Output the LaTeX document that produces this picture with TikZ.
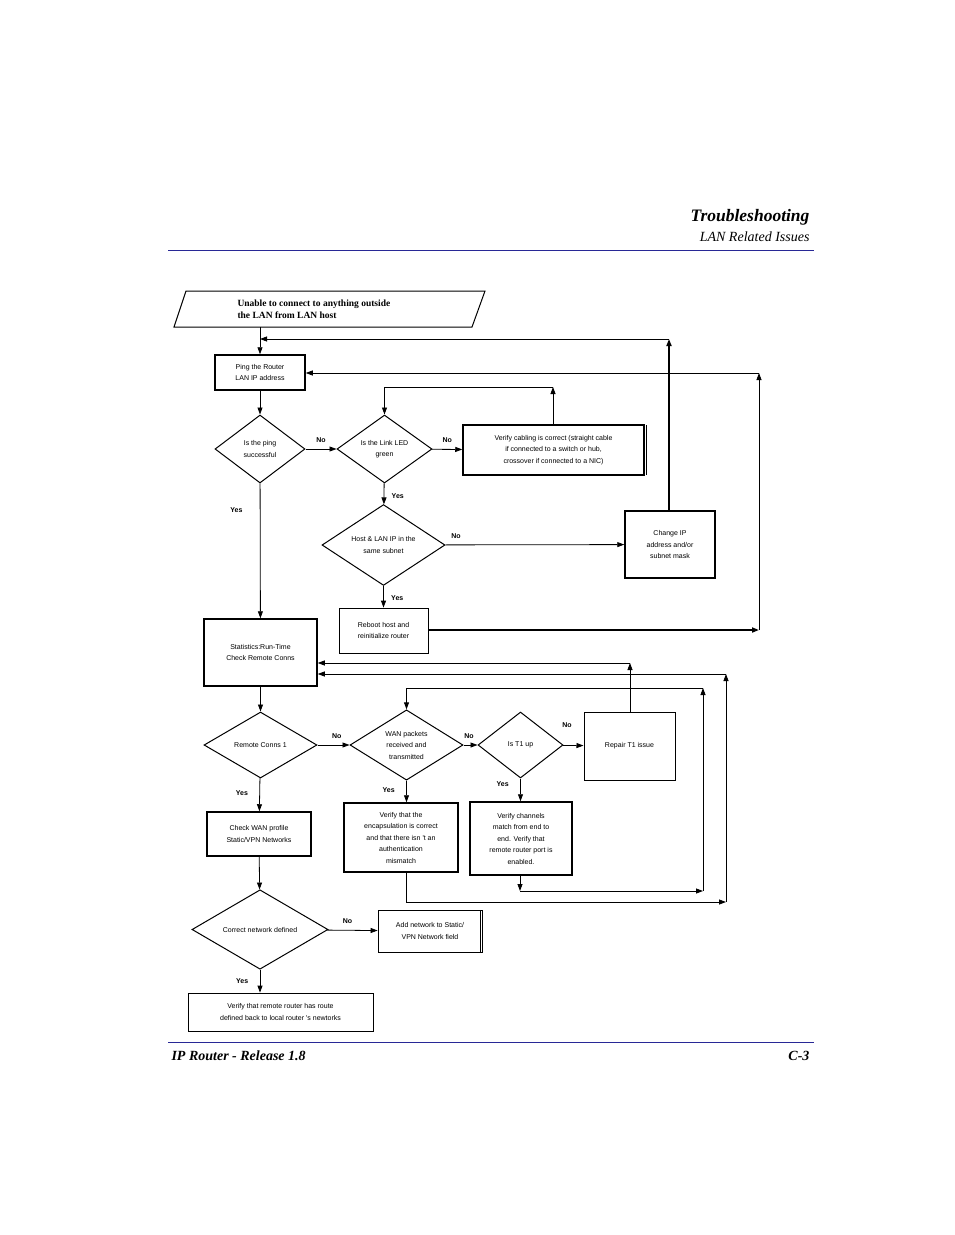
\documentclass[tikz,border=0pt]{standalone}
\usepackage{fontspec}
\setmainfont{Liberation Serif}
\newfontfamily\sansf{Liberation Sans}
\usetikzlibrary{shapes.geometric,arrows.meta}
\definecolor{rulec}{RGB}{40,40,150}
\begin{document}
\begin{tikzpicture}[x=1pt,y=-1pt,
  txt/.style={font=\sansf\fontsize{7}{11.5}\selectfont,align=center},
  box/.style={draw,line width=1.5pt,inner sep=0,txt},
  dia/.style={draw,diamond,line width=1pt,inner sep=0,txt},
  lab/.style={font=\sansf\bfseries\fontsize{7}{8}\selectfont},
  ar/.style={line width=0.8pt,-{Triangle[length=7pt,width=5pt]}},
  ln/.style={line width=0.8pt},
  thk/.style={line width=1.6pt}]
\useasboundingbox (0,0) rectangle (954,1235);
% header
\node[anchor=base east,font=\bfseries\itshape\fontsize{17.5}{20}\selectfont] (h1) at (813,221) {Troubleshooting};
\node[anchor=base east,font=\itshape\fontsize{14}{16}\selectfont] (h2) at (813,241) {LAN Related Issues};
\draw[rulec,line width=0.8pt] (168,250) -- (814,250);
\draw[rulec,line width=0.8pt] (168,1042) -- (814,1042);
\node[anchor=base west,font=\bfseries\itshape\fontsize{14}{16}\selectfont] (f1) at (168,1060) {IP Router - Release 1.8};
\node[anchor=base east,font=\bfseries\itshape\fontsize{14}{16}\selectfont] (f2) at (813,1060) {C-3};
% start
\draw[line width=1pt] (186,291) -- (485,291) -- (472,327) -- (174,327) -- cycle;
\node[anchor=north west,align=left,font=\bfseries\fontsize{9.5}{12}\selectfont] (start) at (234,296) {Unable to connect to anything outside\\the LAN from LAN host};
\coordinate (s) at (260,327);
% nodes
\node[box,minimum width=90pt,minimum height=35pt] (ping) at (260,372.5) {Ping the Router\\LAN IP address};
\node[dia,minimum width=90pt,minimum height=68pt] (d1) at (260,449) {Is the ping\\successful};
\node[dia,minimum width=95pt,minimum height=68pt] (d2) at (384.5,449) {Is the Link LED\\green};
\node[box,minimum width=181pt,minimum height=50pt] (cab) at (553.5,450) {Verify cabling is correct (straight cable\\if connected to a switch or hub,\\crossover if connected to a NIC)};
\draw[line width=0.6pt] (646,425) -- (646,475);
\node[dia,minimum width=123pt,minimum height=77pt] (d3) at (383.5,545) {Host \&  LAN IP in the\\same subnet};
\node[box,minimum width=90pt,minimum height=67pt] (chg) at (670,544.5) {Change IP\\address and/or\\subnet mask};
\node[box,line width=0.8pt,minimum width=89pt,minimum height=45pt] (reb) at (383.5,630.5) {Reboot host and\\reinitialize router};
\node[box,minimum width=113pt,minimum height=67pt] (stat) at (260.5,652.5) {Statistics:Run-Time\\Check  Remote Conns};
\node[dia,minimum width=113pt,minimum height=66pt] (d4) at (260.5,745) {Remote Conns 1};
\node[dia,minimum width=113pt,minimum height=66pt] (d5) at (406.5,745) {WAN packets\\received and\\transmitted};
\node[dia,minimum width=85pt,minimum height=66pt] (d6) at (520.5,745) {Is T1 up};
\node[box,line width=1pt,minimum width=91pt,minimum height=68pt] (rep) at (629.5,746) {Repair T1 issue};
\node[box,minimum width=114pt,minimum height=69pt] (enc) at (401,837.5) {Verify that the\\encapsulation is correct\\and that there isn 't an\\authentication\\mismatch};
\node[box,minimum width=102pt,minimum height=73pt] (chn) at (521,838.5) {Verify channels\\match from end to\\end. Verify that\\remote router port is\\enabled.};
\node[box,minimum width=104pt,minimum height=44pt] (wan) at (259,834) {Check WAN profile\\Static/VPN Networks};
\node[dia,minimum width=136pt,minimum height=69pt] (d7) at (260,929.5) {Correct network defined};
\node[box,line width=0.8pt,minimum width=104pt,minimum height=42pt] (add) at (430,931) {Add network to Static/\\VPN Network field};
\draw[line width=0.6pt] (480,910) -- (480,952);
\node[box,line width=0.8pt,minimum width=185pt,minimum height=38pt] (fin) at (280.5,1012) {Verify that remote router has route\\defined back to local router  's newtorks};
% connectors
\draw[ar] (s) -- (ping.north);
\draw[ar] (ping) -- (d1);
\draw[ar] (d1) -- (d2) node[lab,pos=0.5,above=3pt] {No};
\draw[ar] (d2) -- (cab) node[lab,pos=0.5,above=3pt] {No};
\coordinate (c1) at (553,387);
\draw[ar] (cab.north -| c1) -- (c1);
\draw[ar] (c1) -| (d2.north);
\draw[ar] (d2) -- (d3) node[lab,pos=0.6,right=4pt] {Yes};
\draw[ar] (d3) -- (chg) node[lab,pos=0.06,above=3pt] {No};
\coordinate (c2) at (669,339);
\draw[ar,thk] (chg.north -| c2) -- (c2);
\draw[ar] (c2) -- (260,339);
\draw[ar] (d3) -- (reb) node[lab,pos=0.55,right=4pt] {Yes};
\coordinate (c3) at (759,630);
\draw[ar,thk] (reb.east |- c3) -- (c3);
\coordinate (c4) at (759,373);
\draw[ar,ln] (c3) -- (c4);
\draw[ar] (c4) -- (ping.east |- c4);
\draw[ar] (d1) -- (stat) node[lab,pos=0.2,left=14pt] {Yes};
\draw[ar] (stat) -- (d4);
\draw[ar] (d4) -- (d5) node[lab,pos=0.6,above=3pt] {No};
\draw[ar] (d5) -- (d6) node[lab,pos=0.4,above=3pt] {No};
\draw[ar] (d6) -- (rep) node[lab,pos=0.2,above=14pt] {No};
\coordinate (c5) at (630,663);
\draw[ar] (rep.north -| c5) -- (c5);
\draw[ar] (c5) -- (stat.east |- c5);
\coordinate (c6) at (726,902);
\coordinate (c7) at (726,674);
\draw[ar] (enc.south -| 406,0) |- (c6);
\draw[ar] (c6) -- (c7);
\draw[ar] (c7) -- (stat.east |- c7);
\coordinate (c8) at (520,891);
\coordinate (c9) at (703,891);
\coordinate (c10) at (703,688);
\draw[ar] (chn.south -| c8) -- (c8);
\draw[ar] (c8) -- (c9);
\draw[ar] (c9) -- (c10);
\draw[ar] (c10) -| (d5.north);
\draw[ar] (d5) -- (d5 |- enc.north) node[lab,pos=0.45,left=8pt] {Yes};
\draw[ar] (d6) -- (d6 |- chn.north) node[lab,pos=0.25,left=8pt] {Yes};
\draw[ar] (d4) -- (wan) node[lab,pos=0.45,left=8pt] {Yes};
\draw[ar] (wan) -- (d7);
\draw[ar] (d7) -- (add) node[lab,pos=0.4,above=3pt] {No};
\draw[ar] (d7) -- (fin.north -| d7) node[lab,pos=0.5,left=8pt] {Yes};
\end{tikzpicture}
\end{document}
